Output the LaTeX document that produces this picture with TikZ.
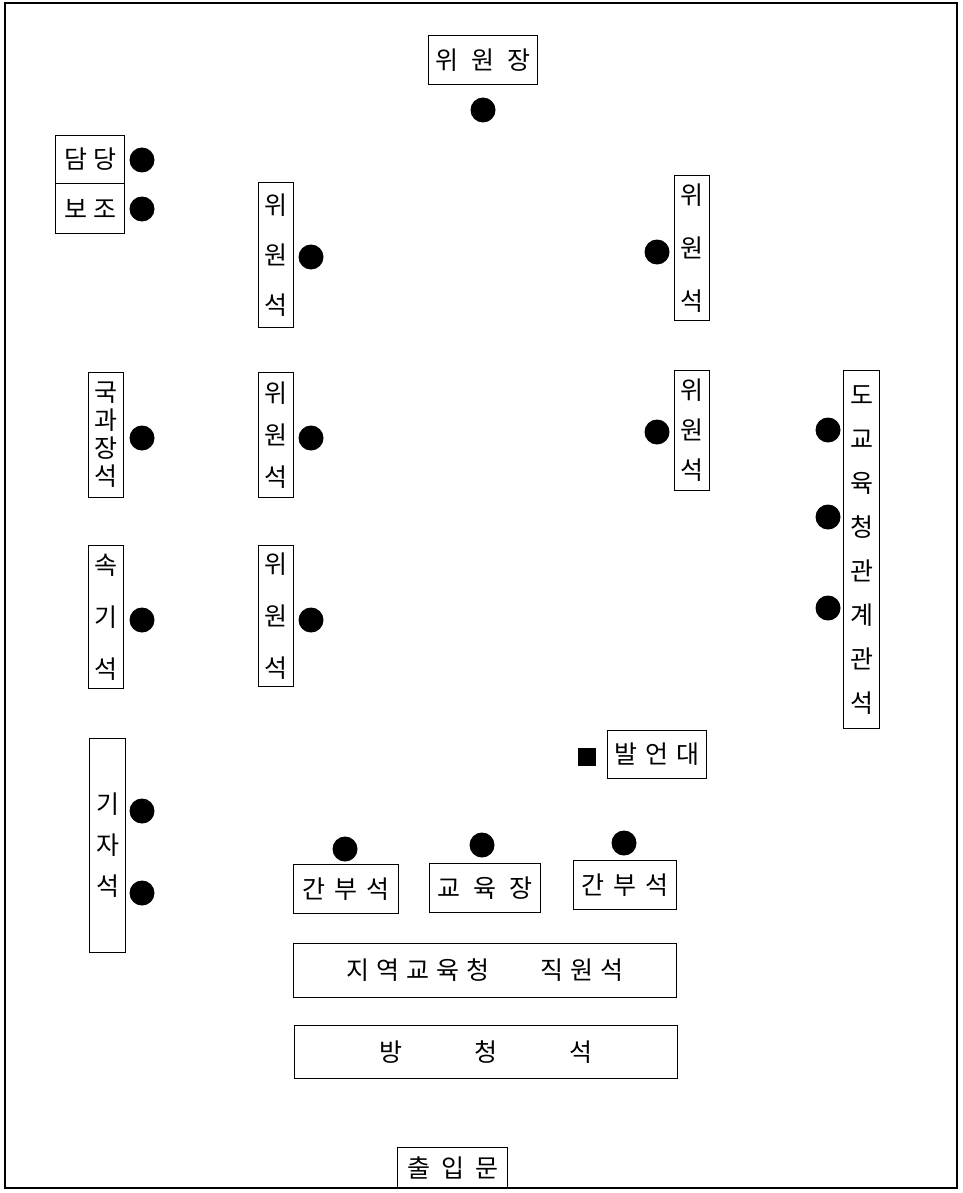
\documentclass[tikz,border=0pt]{standalone}
\usepackage{fontspec}
\newfontfamily\kr{Noto Sans CJK KR}
\begin{document}
\begin{tikzpicture}[x=1pt,y=-1pt,
  box/.style={draw, line width=1.1pt, inner sep=0pt, anchor=north west, align=center},
  seat/.style={circle, fill=black, inner sep=0pt, minimum size=25pt},
  podium/.style={rectangle, fill=black, inner sep=0pt, minimum size=18pt}]
\useasboundingbox (0,0) rectangle (962,1193);
\draw[line width=1.3pt] (5,3) rectangle (957,1188);
\newcommand{\g}[1]{\hspace{#1pt}}
\newcommand{\vf}[1]{\kr\fontsize{25}{#1}\selectfont}
\newcommand{\hf}{\kr\fontsize{25}{29}\selectfont}
% horizontal boxes
\node[box, minimum width=109pt, minimum height=49pt, font=\hf] (chair) at (428,35) {위\g{13}원\g{13}장};
\node[box, minimum width=69pt, minimum height=48pt, font=\hf] (damdang) at (55,135) {담\g{6}당};
\node[box, minimum width=69pt, minimum height=50pt, font=\hf] (bojo) at (55,183) {보\g{6}조};
\node[box, minimum width=99pt, minimum height=48pt, font=\hf] (baleon) at (607,730) {발\g{8}언\g{8}대};
\node[box, minimum width=105pt, minimum height=49pt, font=\hf] (ganbuL) at (293,864) {간\g{9}부\g{9}석};
\node[box, minimum width=111pt, minimum height=49pt, font=\hf] (gyoyuk) at (429,863) {교\g{13}육\g{13}장};
\node[box, minimum width=103pt, minimum height=49pt, font=\hf] (ganbuR) at (573,860) {간\g{9}부\g{9}석};
\node[box, minimum width=383pt, minimum height=54pt, font=\hf] (jiyeok) at (293,943) {지\g{7}역\g{7}교\g{7}육\g{7}청\g{51}직\g{7}원\g{7}석};
\node[box, minimum width=383pt, minimum height=53pt, font=\hf] (bangcheong) at (294,1025) {방\g{72}청\g{72}석};
\node[box, minimum width=110pt, minimum height=41pt, font=\hf] (exit) at (397,1147) {출\g{11}입\g{11}문};
% vertical boxes
\node[box, minimum width=35pt, minimum height=145pt, font=\vf{50}] (LW1) at (258,182) {위\\원\\석};
\node[box, minimum width=35pt, minimum height=125pt, font=\vf{42}] (LW2) at (258,372) {위\\원\\석};
\node[box, minimum width=35pt, minimum height=141pt, font=\vf{52}] (LW3) at (258,545) {위\\원\\석};
\node[box, minimum width=35pt, minimum height=145pt, font=\vf{53}] (RW1) at (674,175) {위\\원\\석};
\node[box, minimum width=35pt, minimum height=120pt, font=\vf{40}] (RW2) at (674,370) {위\\원\\석};
\node[box, minimum width=35pt, minimum height=125pt, font=\vf{28}] (gukgwa) at (88,372) {국\\과\\장\\석};
\node[box, minimum width=35pt, minimum height=143pt, font=\vf{52}] (sokgi) at (88,545) {속\\기\\석};
\node[box, minimum width=36pt, minimum height=214pt, font=\vf{41}] (gija) at (89,738) {기\\자\\석};
\node[box, minimum width=36pt, minimum height=358pt, font=\vf{44}] (do) at (843,370) {도\\교\\육\\청\\관\\계\\관\\석};
% seats
\node[seat] (s1) at (483,110) {};
\node[seat] (s2) at (142,160) {};
\node[seat] (s3) at (142,209) {};
\node[seat] (s4) at (311,257) {};
\node[seat] (s5) at (657,252) {};
\node[seat] (s6) at (142,438) {};
\node[seat] (s7) at (311,438) {};
\node[seat] (s8) at (657,432) {};
\node[seat] (s9) at (828,430) {};
\node[seat] (s10) at (828,517) {};
\node[seat] (s11) at (828,608) {};
\node[seat] (s12) at (142,620) {};
\node[seat] (s13) at (311,620) {};
\node[seat] (s14) at (142,811) {};
\node[seat] (s15) at (142,893) {};
\node[seat] (s16) at (345,849) {};
\node[seat] (s17) at (482,845) {};
\node[seat] (s18) at (624,843) {};
\node[podium] (pd) at (587,757) {};
\end{tikzpicture}
\end{document}
